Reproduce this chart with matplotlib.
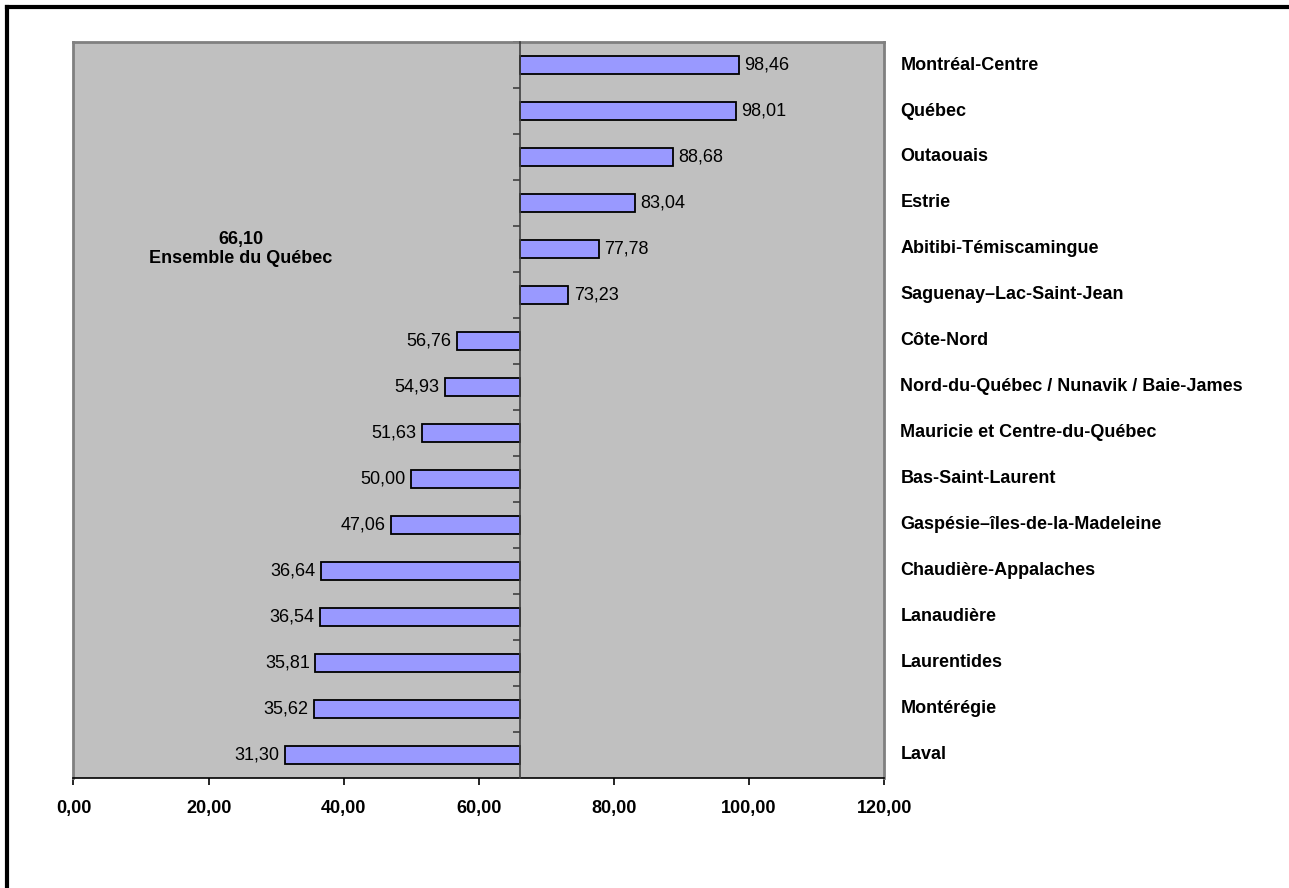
import matplotlib.pyplot as plt
import matplotlib.transforms as mtransforms
from matplotlib.lines import Line2D

plt.rcParams['font.family'] = ['Liberation Sans', 'DejaVu Sans']

regions = [
    "Montréal-Centre", "Québec", "Outaouais", "Estrie",
    "Abitibi-Témiscamingue", "Saguenay–Lac-Saint-Jean", "Côte-Nord",
    "Nord-du-Québec / Nunavik / Baie-James", "Mauricie et Centre-du-Québec",
    "Bas-Saint-Laurent", "Gaspésie–îles-de-la-Madeleine",
    "Chaudière-Appalaches", "Lanaudière", "Laurentides", "Montérégie", "Laval",
]
values = [98.46, 98.01, 88.68, 83.04, 77.78, 73.23, 56.76, 54.93,
          51.63, 50.00, 47.06, 36.64, 36.54, 35.81, 35.62, 31.30]
quebec_total = 66.10
xticks = [0, 20, 40, 60, 80, 100, 120]


def fr(v):
    return f"{v:.2f}".replace(".", ",")


fig = plt.figure(figsize=(12.89, 8.88), dpi=100)
ax = fig.add_axes([0.057, 0.1239, 0.629, 0.8288])
ax.set_facecolor('#C0C0C0')

pos = list(range(len(regions)))
ax.barh(pos, [v - quebec_total for v in values], left=quebec_total, height=0.4,
        color='#9999FF', edgecolor='black', linewidth=1.3, zorder=3)

ax.set_xlim(0, 120)
ax.set_ylim(len(regions) - 0.5, -0.5)

# value labels beside each bar end
for p, v in zip(pos, values):
    if v >= quebec_total:
        ax.annotate(fr(v), (v, p), xytext=(4, 0), textcoords='offset points',
                    ha='left', va='center', fontsize=13)
    else:
        ax.annotate(fr(v), (v, p), xytext=(-4, 0), textcoords='offset points',
                    ha='right', va='center', fontsize=13)

# region names to the right of the plot area
trans = mtransforms.blended_transform_factory(ax.transAxes, ax.transData)
for p, name in zip(pos, regions):
    ax.text(1.02, p, name, transform=trans, ha='left', va='center',
            fontsize=13, fontweight='bold')

ax.text(24.8, 4, fr(quebec_total) + "\nEnsemble du Québec", ha='center',
        va='center', fontsize=13, fontweight='bold', linespacing=1.1)

# category axis crosses at the provincial value
ax.spines['left'].set_position(('data', quebec_total))
ax.spines['left'].set_color('#404040')
ax.spines['left'].set_linewidth(1.2)
ax.spines['left'].set_zorder(4)
ax.set_yticks([p + 0.5 for p in pos[:-1]] + [-0.5])
ax.set_yticklabels([])
ax.tick_params(axis='y', direction='out', length=5, width=1.2, color='#404040')

for s in ['top', 'right']:
    ax.spines[s].set_color('#808080')
    ax.spines[s].set_linewidth(2)
ax.spines['bottom'].set_color('black')
ax.spines['bottom'].set_linewidth(1.2)
ax.plot([0, 0], [len(regions) - 0.5, -0.5], color='#808080', lw=2,
        clip_on=False, zorder=2)

ax.set_xticks(xticks)
ax.set_xticklabels([fr(t) for t in xticks], fontsize=13, fontweight='bold')
ax.tick_params(axis='x', direction='out', length=5, width=1.2, pad=11)

# outer chart frame
fig.add_artist(Line2D([7 / 1289, 7 / 1289], [0, 1 - 7 / 888], color='black',
                      lw=3, transform=fig.transFigure))
fig.add_artist(Line2D([7 / 1289, 1], [1 - 7 / 888, 1 - 7 / 888], color='black',
                      lw=3, transform=fig.transFigure))

fig.savefig('out.png', dpi=100)
